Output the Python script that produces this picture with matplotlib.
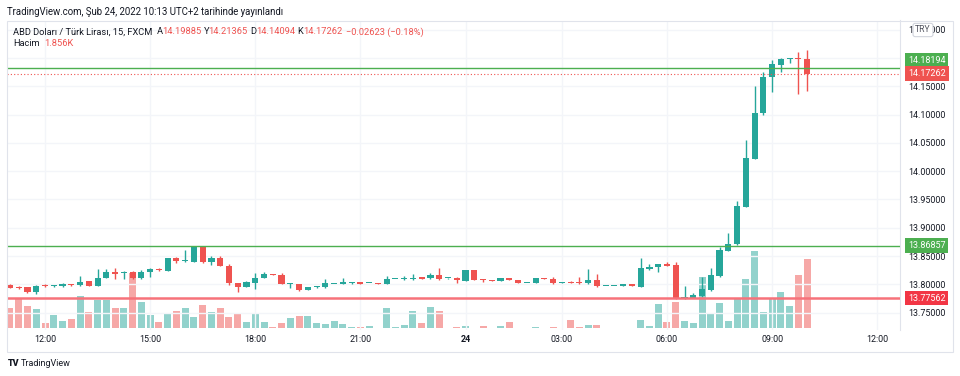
import matplotlib
matplotlib.use("Agg")
import matplotlib.pyplot as plt
from matplotlib import transforms
from matplotlib.patches import Rectangle
import numpy as np

plt.rcParams['font.family'] = ['Roboto', 'DejaVu Sans']

# USD/TRY 15 dk mumlar (23 Şub 11:15 -> 24 Şub 10:00)
opens = [13.7989, 13.7946, 13.7949, 13.7860, 13.7989, 13.7966, 13.7966, 13.8007, 13.7984, 13.8054,
         13.7977, 13.8113, 13.8224, 13.8207, 13.8224, 13.8107, 13.8224, 13.8267, 13.8242, 13.8461,
         13.8405, 13.8401, 13.8666, 13.8390, 13.8461, 13.8330, 13.8019, 13.7960, 13.8019, 13.8107,
         13.8184, 13.8166, 13.8005, 13.8007, 13.7901, 13.7949, 13.7949, 13.8007, 13.8007, 13.8030,
         13.8037, 13.8016, 13.8025, 13.8007, 13.8092, 13.8095, 13.8095, 13.8125, 13.8107, 13.8166,
         13.8105, 13.8119, 13.8066, 13.8254, 13.8101, 13.8083, 13.8060, 13.8113, 13.8083, 13.8019,
         13.8019, 13.8113, 13.8095, 13.8019, 13.8042, 13.8022, 13.8019, 13.8078, 13.7972, 13.7972,
         13.7972, 13.8002, 13.7960, 13.8277, 13.8307, 13.8355, 13.8343, 13.7747, 13.7765, 13.7795,
         13.7901, 13.8154, 13.8595, 13.8708, 13.9373, 14.0221, 14.1034, 14.1670, 14.1876, 14.1977,
         14.1995, 14.19885]
highs = [13.8002, 13.7977, 13.7952, 13.7989, 13.8002, 13.7989, 13.8030, 13.8013, 13.8143, 13.8066,
         13.8267, 13.8267, 13.8284, 13.8237, 13.8237, 13.8254, 13.8284, 13.8284, 13.8461, 13.8489,
         13.8608, 13.8672, 13.8672, 13.8507, 13.8507, 13.8355, 13.8030, 13.8060, 13.8196, 13.8214,
         13.8184, 13.8196, 13.8019, 13.8010, 13.7960, 13.7980, 13.8095, 13.8013, 13.8119, 13.8048,
         13.8040, 13.8022, 13.8025, 13.8148, 13.8095, 13.8143, 13.8178, 13.8125, 13.8201, 13.8284,
         13.8107, 13.8131, 13.8254, 13.8254, 13.8101, 13.8083, 13.8119, 13.8119, 13.8083, 13.8022,
         13.8107, 13.8113, 13.8137, 13.8042, 13.8060, 13.8131, 13.8267, 13.8178, 13.7975, 13.7975,
         13.8002, 13.8002, 13.8461, 13.8355, 13.8366, 13.8401, 13.8390, 13.7972, 13.7853, 13.8131,
         13.8295, 13.8666, 13.8903, 13.9479, 14.0551, 14.1505, 14.1747, 14.1965, 14.2000, 14.2005,
         14.2111, 14.21365]
lows = [13.7931, 13.7913, 13.7842, 13.7836, 13.7954, 13.7954, 13.7960, 13.7977, 13.7972, 13.7966,
        13.7972, 13.8107, 13.8090, 13.8090, 13.8095, 13.8095, 13.8125, 13.8237, 13.8237, 13.8372,
        13.8401, 13.8395, 13.8385, 13.8348, 13.8325, 13.7989, 13.7871, 13.7960, 13.7913, 13.8107,
        13.8166, 13.8002, 13.7942, 13.7883, 13.7895, 13.7940, 13.7942, 13.8000, 13.8002, 13.8002,
        13.8013, 13.8016, 13.8007, 13.8002, 13.8090, 13.8078, 13.8078, 13.8101, 13.8095, 13.8078,
        13.8104, 13.8019, 13.8060, 13.8078, 13.8048, 13.8054, 13.8060, 13.8083, 13.8019, 13.8016,
        13.8019, 13.8090, 13.8013, 13.8019, 13.8019, 13.8013, 13.8013, 13.7954, 13.7970, 13.7970,
        13.7972, 13.7972, 13.7949, 13.8254, 13.8224, 13.8325, 13.7742, 13.7747, 13.7754, 13.7783,
        13.7889, 13.8136, 13.8595, 13.8701, 13.9373, 14.0216, 14.0993, 14.1405, 14.1747, 14.1912,
        14.1359, 14.14094]
closes = [13.7942, 13.7942, 13.7860, 13.7977, 13.7966, 13.7972, 13.8007, 13.7984, 13.8048, 13.7977,
          13.8119, 13.8224, 13.8184, 13.8224, 13.8107, 13.8224, 13.8267, 13.8249, 13.8461, 13.8408,
          13.8412, 13.8666, 13.8390, 13.8472, 13.8325, 13.8019, 13.7960, 13.8037, 13.8119, 13.8184,
          13.8166, 13.8007, 13.8010, 13.7901, 13.7954, 13.7977, 13.8019, 13.8010, 13.8048, 13.8033,
          13.8013, 13.8019, 13.8007, 13.8090, 13.8095, 13.8119, 13.8119, 13.8101, 13.8166, 13.8101,
          13.8107, 13.8078, 13.8254, 13.8078, 13.8083, 13.8054, 13.8113, 13.8083, 13.8019, 13.8022,
          13.8107, 13.8090, 13.8019, 13.8042, 13.8019, 13.8019, 13.8078, 13.7972, 13.7975, 13.7975,
          13.8002, 13.7972, 13.8295, 13.8313, 13.8355, 13.8330, 13.7754, 13.7772, 13.7813, 13.7913,
          13.8161, 13.8608, 13.8714, 13.9385, 14.0228, 14.1034, 14.1670, 14.1889, 14.1977, 14.1995,
          14.19885, 14.17262]
volume = [530, 813, 591, 511, 151, 352, 204, 246, 848, 424,
          750, 750, 530, 549, 1484, 708, 352, 159, 390, 450,
          530, 310, 610, 443, 530, 310, 416, 159, 390, 159,
          45, 133, 265, 326, 326, 151, 106, 193, 106, 45,
          34, 72, 19, 530, 34, 87, 469, 151, 575, 450,
          8, 34, 53, 19, 53, 19, 72, 159, 19, 13,
          34, 13, 45, 19, 212, 45, 80, 80, 13, 13,
          8, 8, 220, 61, 636, 167, 708, 193, 151, 1359,
          398, 670, 204, 803, 1317, 2048, 424, 795, 954, 602,
          1431, 1856]

tick_pos = [4, 16, 28, 40, 52, 63, 75, 87, 99]
tick_labels = ["12:00", "15:00", "18:00", "21:00", "24", "03:00", "06:00", "09:00", "12:00"]
price_ticks = [13.75, 13.80, 13.85, 13.90, 13.95, 14.00, 14.05, 14.10, 14.15, 14.20, 14.25]
levels = [14.18194, 13.86857, 13.77562]

GREEN = '#26a69a'
RED = '#ef5350'
DARK = '#131722'
GRID = '#f3f5f9'
W, H = 960, 376

fig = plt.figure(figsize=(9.6, 3.76), dpi=100)
rect = [7 / W, 1 - 330 / H, (900 - 7) / W, (330 - 20.5) / H]
axv = fig.add_axes(rect)
axp = fig.add_axes(rect, facecolor='none')

o = np.array(opens)
c = np.array(closes)
idx = np.arange(len(o))
up = c >= o
cols = np.where(up, GREEN, RED)
vcols = np.where(up, '#26a69a80', '#ef535080')

# hacim
axv.bar(idx, volume, width=0.8, color=vcols, linewidth=0)
axv.set_xlim(-0.34, 101.6)
axv.set_ylim(-45, 8200)
axv.axis('off')

# grid
for t in price_ticks:
    axp.axhline(t, color=GRID, lw=1, zorder=0)
for t in tick_pos:
    axp.axvline(t, color=GRID, lw=1, zorder=0)

# mumlar
axp.vlines(idx, lows, highs, colors=cols, lw=1, zorder=3)
axp.bar(idx, np.maximum(np.abs(c - o), 0.0018), bottom=np.minimum(o, c),
        width=0.7, color=cols, linewidth=0, zorder=4)

# seviyeler
axp.axhline(levels[0], color='#4caf50', lw=1, zorder=5)
axp.axhline(levels[1], color='#4caf50', lw=1, zorder=5)
axp.axhline(levels[2], color='#f7727a', lw=1.8, zorder=5)
axp.axhline(closes[-1], color=RED, lw=0.8, ls=(0, (1, 2)), zorder=5)

axp.set_xlim(-0.34, 101.6)
axp.set_ylim(13.7194, 14.2663)
axp.yaxis.tick_right()
axp.set_yticks(price_ticks)
axp.set_yticklabels([f'{t:.5f}' if abs(t - 14.20) > 1e-6 else '' for t in price_ticks])
axp.set_xticks(tick_pos)
axp.set_xticklabels(tick_labels)
axp.tick_params(axis='both', length=0, labelsize=6.4, colors=DARK)
axp.tick_params(axis='y', pad=5.8)
axp.tick_params(axis='x', pad=3.5)
for lab in axp.get_xticklabels():
    if lab.get_text() == '24':
        lab.set_fontweight('bold')
for s in ['left', 'top', 'bottom']:
    axp.spines[s].set_visible(False)
axp.spines['right'].set_color('#e0e3eb')

# sağdaki fiyat etiketleri
trans = transforms.blended_transform_factory(axp.transAxes, axp.transData)
lab_items = [(levels[0], '#4caf50', 5.5), (closes[-1], RED, 0),
             (levels[1], '#4caf50', 0), (levels[2], '#f23645', 0)]
for val, col, dy in lab_items:
    tr = transforms.offset_copy(trans, fig=fig, x=5.8, y=dy, units='points')
    axp.text(1.0, val, f'{val:.5f}', transform=tr, color='white', fontsize=6.5,
             ha='left', va='center', clip_on=False, zorder=10,
             bbox=dict(boxstyle='square,pad=0.3', fc=col, ec='none'))

fig.text(923 / W, 1 - 30 / H, 'TRY', ha='center', va='center', fontsize=6.2, color='#50535e',
         bbox=dict(boxstyle='round,pad=0.25', fc='white', ec='#d1d4dc', lw=0.8))

# başlık ve lejant
fig.text(7.3 / W, 1 - 11.7 / H, 'TradingView.com, Şub 24, 2022 10:13 UTC+2 tarihinde yayınlandı',
         fontsize=6.9, color=DARK, va='center')
chg = closes[-1] - closes[-2]
pieces = [
    ('ABD Doları / Türk Lirası, 15, FXCM', DARK, 13.3, 32),
    ('A', DARK, 156.5, 32), (f'{opens[-1]:.5f}', RED, 162, 32),
    ('Y', DARK, 203.5, 32), (f'{highs[-1]:.5f}', RED, 208.5, 32),
    ('D', DARK, 250, 32), (f'{lows[-1]:.5f}', RED, 256, 32),
    ('K', DARK, 297.5, 32), (f'{closes[-1]:.5f}', RED, 303, 32),
    (f'\u2212{abs(chg):.5f} (\u2212{abs(chg) / closes[-2] * 100:.2f}%)', RED, 345.7, 32),
    ('Hacim', DARK, 13.3, 44), (f'{volume[-1] / 1000:.3f}K', RED, 44, 44),
]
for txt, col, x, y in pieces:
    fig.text(x / W, 1 - y / H, txt, fontsize=6.7, color=col, va='center')

# çerçeve
fig.add_artist(Rectangle((7 / W, 1 - 352 / H), (953 - 7) / W, (352 - 20.5) / H,
                         transform=fig.transFigure, fill=False, ec='#e0e3eb', lw=0.8))

fig.text(8 / W, 1 - 363 / H, 'TV', fontsize=6.5, fontweight='heavy', color=DARK, va='center')
fig.text(21 / W, 1 - 363 / H, 'TradingView', fontsize=6.5, color=DARK, va='center')

fig.savefig('out.png', dpi=100)
